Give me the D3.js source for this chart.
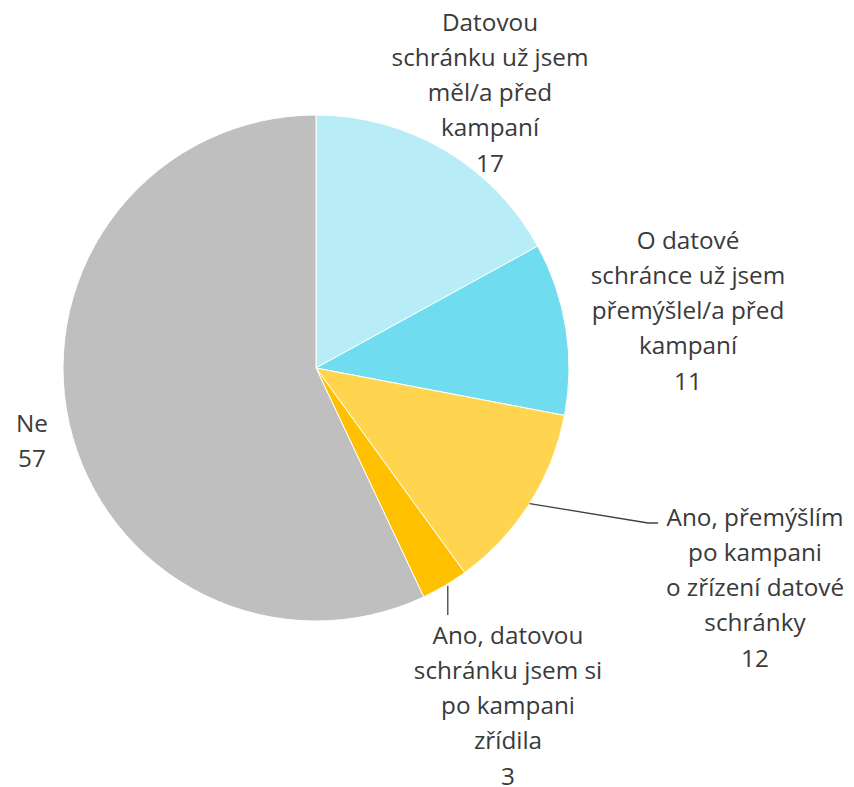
<!DOCTYPE html>
<html>
<head>
<meta charset="utf-8">
<script src="https://cdn.jsdelivr.net/npm/d3@7/dist/d3.min.js"></script>
<style>
  html, body { margin: 0; padding: 0; background: #fff; }
  svg text { font-family: "Open Sans", "Noto Sans", sans-serif; fill: #3a3a3a; }
</style>
</head>
<body>
<svg id="chart" width="854" height="787"></svg>
<script>
// Survey answers about the data box campaign
const categories = [
  "Datovou schránku už jsem měl/a před kampaní",
  "O datové schránce už jsem přemýšlel/a před kampaní",
  "Ano, přemýšlím po kampani o zřízení datové schránky",
  "Ano, datovou schránku jsem si po kampani zřídila",
  "Ne"
];
const values = [17, 11, 12, 3, 57];
const labelLines = [
  ["Datovou", "schránku už jsem", "měl/a před", "kampaní"],
  ["O datové", "schránce už jsem", "přemýšlel/a před", "kampaní"],
  ["Ano, přemýšlím", "po kampani", "o zřízení datové", "schránky"],
  ["Ano, datovou", "schránku jsem si", "po kampani", "zřídila"],
  ["Ne"]
];
const colors = ["#b8ecf7", "#6fdcf0", "#ffd54f", "#ffc000", "#bfbfbf"];

const cx = 316, cy = 368, radius = 253;
const lineH = 35.3, fontSize = 24.3;

// Label anchor (centre x, first-line centre y) and optional leader line end
const labelPos = [
  { x: 490, y: 22 },
  { x: 688, y: 240 },
  { x: 755, y: 517, leader: [[648, 523], [658, 523]] },
  { x: 508, y: 635, leader: [[null, 615]] },
  { x: 32, y: 423 }
];

const svg = d3.select("#chart");
const g = svg.append("g").attr("transform", `translate(${cx},${cy})`);

const pie = d3.pie().value(d => d).sort(null);
const arcs = pie(values);
const arc = d3.arc().innerRadius(0).outerRadius(radius);

g.selectAll("path.slice")
  .data(arcs)
  .join("path")
  .attr("class", "slice")
  .attr("d", arc)
  .attr("fill", (d, i) => colors[i])
  .attr("stroke", "#fff")
  .attr("stroke-width", 1);

// Leader lines for the labels placed away from their slices
arcs.forEach((a, i) => {
  const p = labelPos[i];
  if (!p.leader) return;
  const mid = (a.startAngle + a.endAngle) / 2;
  const sx = cx + radius * Math.sin(mid);
  const sy = cy - radius * Math.cos(mid);
  const pts = [[sx, sy]].concat(p.leader.map(([x, y]) => [x === null ? sx + 3 : x, y]));
  if (p.leader[0][0] === null) pts[0][0] = sx + 3;
  svg.append("path")
    .attr("d", d3.line()(pts))
    .attr("fill", "none")
    .attr("stroke", "#404040")
    .attr("stroke-width", 1.3);
});

// Category name lines followed by the value
arcs.forEach((a, i) => {
  const p = labelPos[i];
  const lines = labelLines[i].concat([String(values[i])]);
  const t = svg.append("text")
    .attr("text-anchor", "middle")
    .attr("font-size", fontSize);
  lines.forEach((ln, k) => {
    t.append("tspan")
      .attr("x", p.x)
      .attr("y", p.y + k * lineH)
      .attr("dy", "0.35em")
      .text(ln);
  });
});
</script>
</body>
</html>
